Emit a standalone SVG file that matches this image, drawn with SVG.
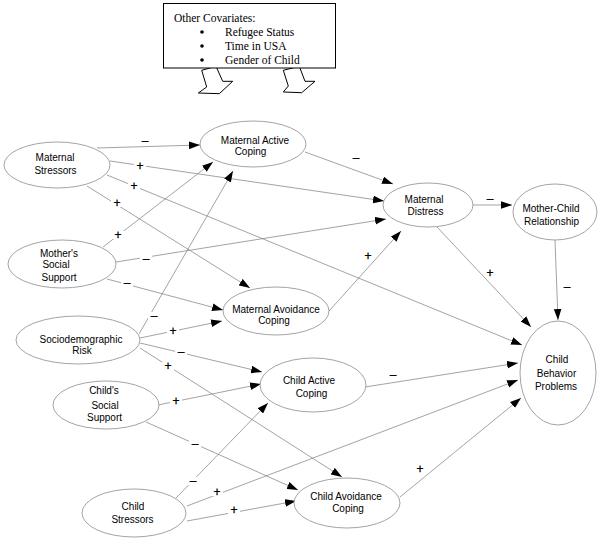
<svg xmlns="http://www.w3.org/2000/svg" width="600" height="540" viewBox="0 0 600 540">
<style>
.n ellipse{fill:#fff;stroke:#8c8c8c;stroke-width:0.8}
.n text{font-family:"Liberation Sans",Arial,sans-serif;font-size:10px;fill:#000;text-anchor:middle}
.e line{stroke:#8c8c8c;stroke-width:0.8;marker-end:url(#ah)}
.s text{font-family:"Liberation Sans",Arial,sans-serif;font-size:12px;fill:#000;stroke:#000;stroke-width:0.3;text-anchor:middle}
.s rect{fill:#fff;width:12px;height:8px}
.cov text{font-family:"Liberation Serif","Times New Roman",serif;font-size:11.5px;fill:#000}
.blk{fill:#fff;stroke:#000;stroke-width:1}
</style>
<defs>
<marker id="ah" viewBox="0 0 10 7" refX="10" refY="3.5" markerWidth="11" markerHeight="8" markerUnits="userSpaceOnUse" orient="auto">
<path d="M0,0 L10,3.5 L0,7 z" fill="#000"/>
</marker>
</defs>
<rect width="600" height="540" fill="#fff"/>

<g id="covariates" class="cov">
<polygon class="blk" points="201.7,70.3 216,66.3 222.7,81.3 232.7,81.3 219.3,93.7 198.3,93 206.7,87"/>
<polygon class="blk" points="283.3,70.3 299.3,66.3 305,81.3 315,81.3 301.7,92.7 283.3,92 288.3,86"/>
<rect x="163.5" y="3.5" width="172" height="64.5" fill="#fff" stroke="#000" stroke-width="1"/>
<text x="174" y="22">Other Covariates:</text>
<circle cx="202" cy="32" r="1.8" fill="#000"/>
<circle cx="202" cy="46" r="1.8" fill="#000"/>
<circle cx="202" cy="60" r="1.8" fill="#000"/>
<text x="225" y="36">Refugee Status</text>
<text x="225" y="50">Time in USA</text>
<text x="225" y="64">Gender of Child</text>
</g>

<g id="connectors" class="e">
<line x1="97" y1="148" x2="200" y2="145"/>
<line x1="110" y1="161" x2="384" y2="201"/>
<line x1="107" y1="175" x2="522" y2="345"/>
<line x1="87" y1="186" x2="250" y2="288"/>
<line x1="103" y1="247" x2="213" y2="162"/>
<line x1="116" y1="262" x2="386" y2="219"/>
<line x1="107" y1="279" x2="223" y2="310"/>
<line x1="139" y1="334" x2="233" y2="171"/>
<line x1="140" y1="338" x2="222" y2="321"/>
<line x1="140" y1="343" x2="262" y2="372"/>
<line x1="140" y1="348" x2="342" y2="477"/>
<line x1="158" y1="405" x2="261" y2="384"/>
<line x1="146" y1="422" x2="298" y2="490"/>
<line x1="176" y1="498" x2="268" y2="403"/>
<line x1="187" y1="506" x2="518" y2="380"/>
<line x1="187" y1="521" x2="296" y2="501"/>
<line x1="305" y1="152" x2="393" y2="184"/>
<line x1="329" y1="311" x2="401" y2="231"/>
<line x1="473" y1="205" x2="512" y2="205"/>
<line x1="437" y1="227" x2="531" y2="327"/>
<line x1="555" y1="240" x2="558" y2="320"/>
<line x1="365" y1="387" x2="518" y2="363"/>
<line x1="400" y1="497" x2="521" y2="398"/>
</g>

<g id="signs" class="s">
<rect x="139" y="137"/><text x="145" y="145">–</text>
<rect x="134" y="162"/><text x="140" y="170">+</text>
<rect x="128" y="182"/><text x="134" y="190">+</text>
<rect x="111" y="199"/><text x="117" y="207">+</text>
<rect x="112" y="231"/><text x="118" y="239">+</text>
<rect x="140" y="255"/><text x="146" y="263">–</text>
<rect x="121" y="279"/><text x="127" y="287">–</text>
<rect x="148" y="312"/><text x="154" y="320">–</text>
<rect x="167" y="327"/><text x="173" y="335">+</text>
<rect x="175" y="348"/><text x="181" y="356">–</text>
<rect x="162" y="362"/><text x="168" y="370">+</text>
<rect x="170" y="397"/><text x="176" y="405">+</text>
<rect x="189" y="440"/><text x="195" y="448">–</text>
<rect x="187" y="477"/><text x="193" y="485">–</text>
<rect x="211" y="488"/><text x="217" y="496">+</text>
<rect x="228" y="506"/><text x="234" y="514">+</text>
<rect x="350" y="154"/><text x="356" y="162">–</text>
<text x="490" y="203">–</text>
<rect x="362" y="252"/><text x="368" y="260">+</text>
<rect x="484" y="269"/><text x="490" y="277">+</text>
<rect x="561" y="283"/><text x="567" y="291">–</text>
<rect x="387" y="371"/><text x="393" y="379">–</text>
<rect x="414" y="465"/><text x="420" y="473">+</text>
</g>

<g id="maternal-stressors" class="n">
<ellipse cx="57" cy="165" rx="53" ry="23"/>
<text x="55" y="161">Maternal</text>
<text x="55.5" y="174">Stressors</text>
</g>
<g id="mothers-social-support" class="n">
<ellipse cx="62" cy="264" rx="54" ry="24"/>
<text x="59" y="257">Mother's</text>
<text x="56" y="268">Social</text>
<text x="59" y="281">Support</text>
</g>
<g id="maternal-active-coping" class="n">
<ellipse cx="253" cy="144" rx="53" ry="23"/>
<text x="255" y="143.5">Maternal Active</text>
<text x="250.5" y="154.5">Coping</text>
</g>
<g id="maternal-distress" class="n">
<ellipse cx="428" cy="205" rx="45" ry="22"/>
<text x="424" y="203">Maternal</text>
<text x="425.5" y="215">Distress</text>
</g>
<g id="mother-child-relationship" class="n">
<ellipse cx="555" cy="212" rx="42" ry="28"/>
<text x="551" y="212">Mother-Child</text>
<text x="551.5" y="225">Relationship</text>
</g>
<g id="sociodemographic-risk" class="n">
<ellipse cx="78" cy="340" rx="62" ry="24"/>
<text x="81" y="342.5">Sociodemographic</text>
<text x="82" y="353.5">Risk</text>
</g>
<g id="maternal-avoidance-coping" class="n">
<ellipse cx="276" cy="311" rx="53" ry="24"/>
<text x="276" y="312.5">Maternal Avoidance</text>
<text x="274" y="323.5">Coping</text>
</g>
<g id="childs-social-support" class="n">
<ellipse cx="106" cy="405" rx="53" ry="24"/>
<text x="104" y="393.5">Child's</text>
<text x="105" y="408.5">Social</text>
<text x="104.5" y="420.5">Support</text>
</g>
<g id="child-active-coping" class="n">
<ellipse cx="313" cy="385" rx="53" ry="27"/>
<text x="309" y="383.5">Child Active</text>
<text x="311.5" y="396.5">Coping</text>
</g>
<g id="child-behavior-problems" class="n">
<ellipse cx="558" cy="373" rx="38" ry="52"/>
<text x="557" y="362.5">Child</text>
<text x="556.5" y="376.5">Behavior</text>
<text x="556" y="389.5">Problems</text>
</g>
<g id="child-stressors" class="n">
<ellipse cx="134" cy="513" rx="52" ry="24"/>
<text x="133" y="509.5">Child</text>
<text x="132.5" y="522.5">Stressors</text>
</g>
<g id="child-avoidance-coping" class="n">
<ellipse cx="347" cy="503" rx="53" ry="25"/>
<text x="346" y="500">Child Avoidance</text>
<text x="348" y="512">Coping</text>
</g>
</svg>
